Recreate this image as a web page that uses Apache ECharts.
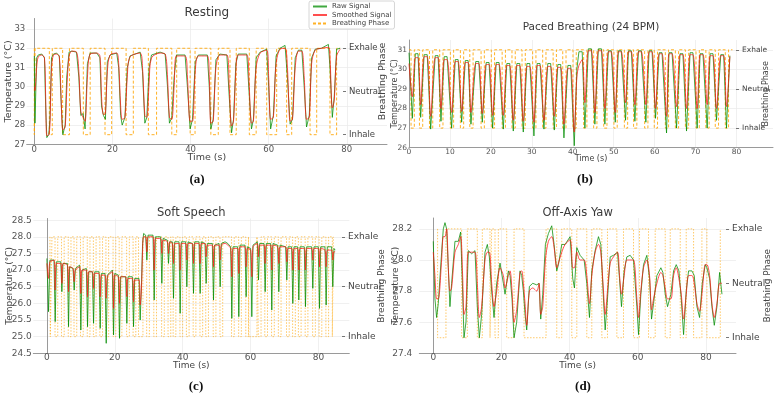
<!DOCTYPE html>
<html><head><meta charset="utf-8">
<script src="https://cdn.jsdelivr.net/npm/echarts@6/dist/echarts.min.js"></script>
<style>html,body{margin:0;padding:0;background:#fff}#c{width:779px;height:398px}</style>
</head><body><div id="c"></div>
<script>
// ---------- DATA ----------
const phaseNames = ['Inhale', 'Neutral', 'Exhale'];
const legendNames = ['Raw Signal', 'Smoothed Signal', 'Breathing Phase'];

// (a) Resting
const aT = [0,0.17,0.6,1.0,1.9,2.6,2.9,3.2,3.7,4.0,
4.4,4.9,5.7,6.4,6.8,7.3,7.9,8.3,8.9,9.6,
10.8,11.4,11.9,12.5,13.0,13.6,14.3,16.0,16.8,17.2,
17.7,18.2,18.7,19.4,21.1,21.6,22.1,22.5,23.2,23.8,
24.5,27.1,27.7,28.3,28.8,29.4,30.0,32.2,33.5,34.1,
34.6,35.2,35.8,36.4,38.6,39.2,39.9,40.5,41.2,42.0,
44.3,44.8,45.2,45.8,46.5,47.5,49.3,49.9,50.5,51.0,
51.6,52.2,54.4,54.96,55.6,56.1,56.8,57.8,59.5,60.0,
60.5,61.2,61.9,62.9,64.2,64.8,65.5,66.1,66.8,67.6,
68.5,69.1,69.7,70.4,71.0,71.9,73.5,75.3,75.7,76.3,
76.8,77.4,78.3];
const aRaw = [31.6,28.1,31.5,31.65,31.7,31.5,29.0,27.35,27.5,28.3,
31.5,31.7,31.75,31.6,29.5,27.5,28.0,30.5,31.8,31.85,
31.8,30.5,28.5,28.6,27.8,31.2,31.75,31.75,31.5,29.0,
28.5,28.3,31.3,31.65,31.75,31.0,28.5,28.0,28.4,31.0,
31.6,31.8,30.8,28.1,28.4,31.0,31.65,31.8,31.7,30.0,
28.1,28.4,30.5,31.65,31.65,30.0,27.8,28.3,31.3,31.65,
31.65,30.0,27.8,28.3,31.4,31.7,31.65,29.5,27.6,28.3,
31.2,31.7,31.7,29.8,27.8,28.3,31.5,31.8,31.95,30.0,
27.8,28.5,31.6,32.0,32.15,30.5,28.05,28.3,31.5,31.9,
31.9,30.0,27.9,28.5,31.5,31.95,32.0,32.2,31.0,28.4,
29.5,31.95,32.0];
const aSmooth = [30.0,29.8,31.0,31.55,31.65,31.5,29.5,27.45,27.5,28.0,
31.0,31.65,31.7,31.55,29.8,27.75,27.9,29.8,31.6,31.85,
31.8,30.8,28.7,28.4,28.2,30.5,31.7,31.75,31.6,29.5,
28.55,28.6,30.8,31.65,31.75,31.2,29.0,28.3,28.4,30.5,
31.55,31.75,31.0,28.5,28.4,30.2,31.5,31.75,31.7,30.5,
28.4,28.3,30.0,31.6,31.6,30.5,28.2,28.2,30.8,31.6,
31.6,30.5,28.1,28.2,31.0,31.65,31.65,30.0,27.95,28.2,
30.8,31.65,31.65,30.3,28.1,28.2,31.0,31.75,31.9,30.5,
28.3,28.4,31.2,31.95,32.0,31.0,28.2,28.3,31.0,31.85,
31.85,30.5,28.3,28.4,31.2,31.9,32.0,32.05,31.5,28.9,
29.3,31.6,31.95];
const aInhaleStart = [0,3.85,7.25,12.55,18.1,23.5,29.2,35.2,39.9,45.2,50.1,55.05,59.5,64.6,70.6,75.7];
const aInhaleEnd   = [0.2,4.6,9.0,14.3,19.8,25.35,31.3,36.45,41.15,47.1,51.7,56.8,62.05,65.9,72.3,77.4];
const aPhaseSpan = [0, 78.3];

// (b) Paced Breathing (24 BPM)
const bT = [0,0.81,1.55,2.2,2.85,3.7,4.45,5.29,6.4,7.1,
7.81,8.6,9.3,10.41,11.3,12.0,12.86,13.75,14.45,15.13,
16.3,17.05,17.9,18.85,19.55,20.42,21.3,22.0,23.03,23.9,
24.6,25.47,26.35,27.05,27.91,28.8,29.5,30.51,31.3,32.0,
32.95,33.9,34.6,35.48,36.35,37.05,37.84,38.8,39.5,40.36,
41.0,41.5,42.3,42.96,43.8,44.55,45.4,46.25,47.0,47.84,
48.7,49.4,50.37,51.15,51.85,52.89,53.6,54.3,55.17,56.05,
56.75,57.85,58.65,59.35,60.21,61.1,61.8,62.9,63.5,64.25,
65.34,66.2,66.9,67.78,68.65,69.35,70.38,71.1,71.8,72.82,
73.55,74.25,75.1,76.15,76.85,77.54,78.36];
const bRaw = [30.85,27.5,30.8,30.8,27.55,30.75,30.75,26.95,30.7,30.7,
27.35,30.65,30.65,27.0,30.5,30.5,27.3,30.45,30.45,27.2,
30.4,30.4,27.3,30.35,30.35,27.0,30.35,30.35,26.95,30.3,
30.3,26.85,30.3,30.3,26.8,30.3,30.3,26.6,30.3,30.3,
26.95,30.3,30.3,26.9,30.25,30.25,26.5,30.2,30.2,26.1,
30.0,30.9,30.9,27.0,31.05,31.05,27.2,31.05,31.05,27.2,
30.95,30.95,27.3,30.95,30.95,27.4,30.95,30.95,27.35,30.95,
30.95,27.3,30.95,30.95,27.5,30.85,30.85,26.75,30.85,30.85,
27.0,30.8,30.8,26.85,30.85,30.85,27.0,30.8,30.8,27.0,
30.8,30.8,27.4,30.75,30.75,27.0,30.7];
const bSmooth = [30.3,28.6,30.6,30.6,28.2,30.65,30.65,27.6,30.6,30.6,
28.0,30.5,30.5,27.8,30.4,30.4,27.85,30.35,30.35,27.8,
30.3,30.3,27.75,30.25,30.25,27.65,30.25,30.25,27.65,30.2,
30.2,27.4,30.2,30.2,27.35,30.15,30.15,27.3,30.2,30.2,
27.4,30.15,30.15,27.6,30.1,30.1,27.2,30.05,30.05,26.8,
29.6,30.2,30.5,28.3,30.95,30.95,27.8,30.95,30.95,28.0,
30.9,30.9,27.8,30.9,30.9,28.3,30.9,30.9,28.2,30.9,
30.9,28.2,30.9,30.9,28.0,30.8,30.8,27.6,30.8,30.8,
28.1,30.75,30.75,28.0,30.75,30.75,28.0,30.75,30.75,28.2,
30.7,30.7,28.0,30.7,30.7,28.1,30.65];
const bInhaleStart = [0.5,2.55,5.0,7.5,10.1,12.55,14.85,17.6,20.1,22.75,25.15,27.6,30.2,32.65,35.2,37.55,40.05,42.65,45.1,47.55,50.05,52.6,54.85,57.55,59.9,62.6,65.05,67.5,70.1,72.5,74.8,77.25];
const bInhaleEnd   = [1.3,3.35,5.8,8.3,10.9,13.35,15.65,18.4,20.9,23.55,25.95,28.4,31.0,33.45,36.0,38.35,40.85,43.45,45.9,48.35,50.85,53.4,55.65,58.35,60.7,63.4,65.85,68.3,70.9,73.3,75.6,78.05];
const bPhaseSpan = [0, 79.0];

// (c) Soft Speech
const cT = [0,0.49,0.9,2.1,2.45,2.8,4.1,4.42,4.75,6.05,
6.38,6.7,7.7,8.05,8.4,9.66,10.01,10.36,11.63,11.98,
12.33,13.4,13.75,14.1,15.36,15.71,16.06,17.13,17.48,17.83,
19.29,19.64,19.99,21.05,21.4,21.75,23.21,23.56,23.91,25.18,
25.53,25.88,27.14,27.49,27.85,28.2,28.5,29.1,29.46,29.8,
31.27,31.62,31.97,33.52,33.87,34.22,35.49,35.84,36.19,36.96,
37.31,37.66,38.92,39.27,39.62,40.89,41.24,41.59,42.85,43.2,
43.55,44.81,45.16,45.51,46.58,46.93,47.28,48.74,49.09,49.44,
50.71,51.06,51.41,52.5,53.3,54.14,54.49,54.84,56.2,56.55,
56.9,58.36,58.71,59.06,60.03,60.38,60.73,62.0,62.35,62.7,
63.96,64.31,64.66,65.92,66.27,66.62,67.99,68.34,68.69,70.34,
70.69,71.04,72.11,72.46,72.81,73.88,74.23,74.58,75.84,76.19,
76.54,78.0,78.35,78.7,79.97,80.32,80.67,81.93,82.28,82.63,
83.89,84.24,84.59,84.93];
const cRaw = [27.35,25.75,27.3,27.3,25.45,27.25,27.25,26.35,27.2,27.2,
25.3,27.1,27.05,26.4,27.05,27.15,25.2,27.0,27.05,25.3,
26.95,26.95,25.4,26.95,26.95,25.25,26.9,26.9,24.8,26.85,
27.0,25.05,26.9,26.85,24.95,26.8,26.8,25.4,26.8,26.8,
25.3,26.75,26.75,25.5,26.5,27.8,28.1,28.05,27.3,28.05,
28.05,26.1,28.0,28.0,26.6,27.95,27.9,27.2,27.85,27.85,
26.15,27.85,27.85,25.7,27.85,27.85,26.5,27.85,27.8,26.3,
27.85,27.85,26.3,27.85,27.8,26.6,27.8,27.8,26.1,27.75,
27.8,26.5,27.8,27.85,27.8,27.7,25.55,27.7,27.7,25.6,
27.75,27.75,26.2,27.7,27.65,25.6,27.75,27.85,26.7,27.8,
27.8,26.35,27.8,27.8,25.8,27.8,27.75,26.35,27.75,27.7,
26.7,27.7,27.7,26.0,27.7,27.7,26.1,27.7,27.7,25.9,
27.7,27.7,26.45,27.7,27.7,25.85,27.7,27.7,25.95,27.7,
27.7,26.5,27.65,27.6];
const cSmooth = [27.2,26.75,27.25,27.3,26.4,27.2,27.2,26.6,27.2,27.15,
26.35,27.1,27.05,26.65,27.0,27.1,26.3,27.0,27.0,26.2,
26.95,26.95,26.45,26.9,26.9,26.2,26.85,26.85,26.15,26.8,
26.95,25.85,26.85,26.8,26.0,26.8,26.8,26.2,26.75,26.75,
26.05,26.7,26.7,25.95,26.4,27.6,28.0,28.0,27.55,28.0,
28.0,27.0,27.95,27.95,27.5,27.9,27.85,27.5,27.85,27.8,
27.2,27.8,27.8,27.0,27.8,27.8,27.3,27.8,27.8,27.2,
27.8,27.8,27.2,27.8,27.8,27.4,27.75,27.75,27.1,27.75,
27.75,27.3,27.75,27.8,27.75,27.65,26.8,27.65,27.65,26.9,
27.7,27.7,27.1,27.65,27.6,26.8,27.7,27.8,27.4,27.75,
27.75,27.2,27.75,27.75,27.0,27.75,27.7,27.2,27.7,27.7,
27.25,27.65,27.65,27.0,27.65,27.65,27.0,27.65,27.65,27.0,
27.65,27.65,27.3,27.65,27.65,27.1,27.65,27.6,27.1,27.6,
27.6,27.3,27.55,27.55];
const cInhaleStart = [1.0,2.4,4.3,6.3,8.0,9.9,11.9,13.7,15.6,17.4,19.5,21.3,23.5,25.4,27.0,29.4,31.5,33.8,35.7,37.2,39.2,41.1,43.1,45.1,46.8,49.0,51.0,54.4,56.5,58.6,59.5,62.3,64.2,66.2,68.2,70.6,72.4,74.1,76.1,78.3,80.2,82.2,84.1];
const cInhaleEnd   = [1.5,3.2,5.1,7.1,8.8,10.7,12.7,14.5,16.4,18.2,20.3,22.1,24.3,26.2,28.3,30.2,32.3,34.6,36.5,38.0,40.0,41.9,43.9,45.9,47.6,49.8,51.8,55.2,57.3,59.4,61.9,63.1,65.0,67.0,69.0,71.4,73.2,74.9,76.9,79.1,81.0,83.0,84.4];
const cPhaseSpan = [0.9, 84.4];

// (d) Off-Axis Yaw
const dT = [0,0.49,0.98,1.47,2.45,2.94,3.43,3.92,4.41,4.89,
5.38,6.36,7.34,8.03,8.61,9.01,9.59,10.28,11.26,12.24,
12.92,13.51,14.19,15.17,15.86,16.45,17.13,17.82,18.6,19.58,
20.56,21.05,22.03,22.52,23.1,23.69,24.47,25.45,25.94,26.43,
26.92,27.41,28.19,29.17,30.35,31.03,31.52,32.11,32.89,33.77,
34.75,35.44,36.22,36.71,37.69,38.67,40.14,40.92,41.41,42.1,
43.07,44.25,45.03,45.82,46.5,47.48,48.46,49.14,49.93,50.42,
51.1,51.89,52.86,54.04,54.63,55.21,56.0,56.78,57.76,58.74,
59.72,60.21,60.89,61.67,62.65,63.44,64.02,64.61,65.59,66.77,
67.35,68.04,68.72,69.7,70.49,71.27,72.05,72.74,73.42,74.2,
74.89,75.87,76.55,77.34,78.12,78.9,79.78,80.27,81.06,81.74,
82.43,83.21,83.99,84.68];
const dRaw = [28.12,27.75,27.63,27.72,28.05,28.2,28.24,28.2,27.95,27.7,
27.85,28.12,28.12,28.18,27.8,27.5,27.6,28.06,28.04,28.06,
27.7,27.5,27.65,28.05,28.1,28.02,27.8,27.63,27.85,27.98,
27.85,27.78,27.93,27.9,27.75,27.5,27.6,27.93,27.9,27.8,
27.65,27.55,27.83,27.85,27.84,27.85,27.62,27.78,28.1,28.17,
28.22,28.1,27.93,27.97,28.1,28.1,28.15,27.88,27.82,28.08,
28.03,28.0,27.85,27.63,27.93,28.06,28.15,28.1,27.75,27.55,
27.75,28.02,28.03,28.05,27.88,27.7,27.93,28.02,28.03,28.0,
27.7,27.52,27.78,27.97,28.03,27.88,27.62,27.72,27.9,27.95,
27.92,27.78,27.7,27.78,27.93,27.97,27.93,27.75,27.52,27.8,
27.93,27.93,27.9,27.7,27.63,27.85,27.97,27.95,27.88,27.7,
27.58,27.7,27.92,27.78];
const dSmooth = [28.05,27.9,27.75,27.75,28.0,28.15,28.15,28.2,27.95,27.8,
27.82,28.05,28.1,28.15,27.9,27.65,27.7,28.05,28.05,28.05,
27.85,27.63,27.7,28.0,28.05,28.05,27.85,27.7,27.8,27.95,
27.9,27.82,27.9,27.93,27.8,27.6,27.68,27.92,27.93,27.85,
27.72,27.58,27.8,27.82,27.8,27.85,27.65,27.7,28.0,28.12,
28.15,28.08,27.95,27.98,28.05,28.1,28.13,27.95,27.95,28.05,
28.0,28.0,27.9,27.72,27.9,28.05,28.1,28.05,27.8,27.65,
27.8,27.98,28.02,28.05,27.9,27.78,27.9,28.0,28.0,28.0,
27.75,27.63,27.8,27.95,28.0,27.9,27.68,27.75,27.85,27.92,
27.9,27.82,27.75,27.75,27.9,27.95,27.88,27.78,27.62,27.78,
27.9,27.9,27.85,27.72,27.67,27.8,27.97,27.97,27.9,27.72,
27.63,27.72,27.85,27.85];
const dInhaleStart = [1.27,8.32,12.92,16.64,18.11,21.54,26.63,36.22,40.63,45.03,49.44,53.85,58.74,63.14,68.04,72.44,76.36,80.27];
const dInhaleEnd   = [3.72,9.99,14.39,17.13,19.09,23.69,33.09,37.69,42.1,46.5,51.1,55.8,60.5,65.1,69.51,74.2,78.8,84.19];
const dPhaseSpan = [1.27, 84.19];

// ---------- LAYOUT (pixels) ----------
const panels = [
  {title:'Resting', T:aT, raw:aRaw, sm:aSmooth, inS:aInhaleStart, inE:aInhaleEnd, span:aPhaseSpan,
   left:26.7, top:18.5, right:387, bottom:144.3, xMin:-1.95, xMax:90.3, xStep:20,
   yMin:27, yMax:33.55, yStep:1, yDec:0, exh:32, inh:27.5, twinX:343,
   fs:8.5, nameFs:9.5, titleFs:12, titleCy:14, yNameCx:8.3, xNameCy:157.7, twinNameCx:383,
   xMargin:0.5, yMargin:1.5, dash:[3,2], phaseColor:'rgba(255,165,0,0.85)', cap:'(a)', capX:197, capY:181.5},
  {title:'Paced Breathing (24 BPM)', T:bT, raw:bRaw, sm:bSmooth, inS:bInhaleStart, inE:bInhaleEnd, span:bPhaseSpan,
   left:409, top:40, right:773, bottom:147.7, xMin:0, xMax:88.9, xStep:10,
   yMin:26, yMax:31.5, yStep:1, yDec:0, exh:31, inh:27, twinX:736,
   fs:7.5, nameFs:8, titleFs:10.5, titleCy:28, yNameCx:394, xNameCy:159.5, twinNameCx:767,
   xMargin:0, yMargin:2, dash:[3,2], phaseColor:'rgba(255,165,0,0.85)', cap:'(b)', capX:585, capY:181.5},
  {title:'Soft Speech', T:cT, raw:cRaw, sm:cSmooth, inS:cInhaleStart, inE:cInhaleEnd, span:cPhaseSpan,
   left:33.3, top:218.5, right:349.3, bottom:353.3, xMin:-4, xMax:89.1, xStep:20,
   yMin:24.5, yMax:28.55, yStep:0.5, yDec:1, exh:28, inh:25, twinX:342,
   fs:9, nameFs:9, titleFs:11.5, titleCy:213.5, yNameCx:9, xNameCy:366, twinNameCx:383,
   xMargin:0, yMargin:1.5, dash:[1.5,1.5], phaseColor:'rgba(255,165,0,0.6)', cap:'(c)', capX:196, capY:388},
  {title:'Off-Axis Yaw', T:dT, raw:dRaw, sm:dSmooth, inS:dInhaleStart, inE:dInhaleEnd, span:dPhaseSpan,
   left:419.3, top:218, right:736, bottom:353.3, xMin:-4.1, xMax:88.8, xStep:20,
   yMin:27.4, yMax:28.27, yStep:0.2, yDec:1, exh:28.2, inh:27.5, twinX:726,
   fs:9, nameFs:9, titleFs:11.5, titleCy:214, yNameCx:395, xNameCy:365.7, twinNameCx:769,
   xMargin:0, yMargin:7, dash:[1.5,1.5], phaseColor:'rgba(255,165,0,0.6)', cap:'(d)', capX:583, capY:388}
];

function isMult(v, s) { return Math.abs(v / s - Math.round(v / s)) < 1e-6; }

const option = {
  animation: false,
  textStyle: {fontFamily: 'DejaVu Sans'},
  title: [], grid: [], xAxis: [], yAxis: [], series: [],
  legend: {
    orient: 'vertical', left: 309, top: 1, itemWidth: 14, itemHeight: 6, itemGap: 1.5,
    padding: [2, 3, 2, 3], backgroundColor: 'rgba(255,255,255,0.9)', borderColor: '#cccccc', borderWidth: 0.8, borderRadius: 2,
    itemStyle: {opacity: 0},
    textStyle: {fontSize: 7, color: '#444', fontFamily: 'DejaVu Sans'},
    data: legendNames
  }
};

panels.forEach((p, i) => {
  option.grid.push({left: p.left, top: p.top, width: p.right - p.left, height: p.bottom - p.top,
    containLabel: false, outerBoundsMode: 'none'});
  option.title.push({text: p.title, left: p.left + (p.right - p.left) / 2, top: p.titleCy - p.titleFs * 0.6,
    textAlign: 'center', padding: 0,
    textStyle: {fontSize: p.titleFs, fontWeight: 'normal', color: '#3a3a3a', fontFamily: 'DejaVu Sans'}});
  option.title.push({text: p.cap, left: p.capX, top: p.capY - 8, textAlign: 'center', padding: 0,
    textStyle: {fontSize: 13, fontWeight: 'bold', color: '#111', fontFamily: 'Liberation Serif'}});
  option.xAxis.push({
    type: 'value', gridIndex: i, min: p.xMin, max: p.xMax, minInterval: p.xStep, maxInterval: p.xStep,
    axisLine: {show: true, onZero: false, lineStyle: {color: '#9a9a9a', width: 1}},
    axisTick: {show: false},
    axisLabel: {fontSize: p.fs, color: '#555', margin: p.xMargin,
      formatter: v => isMult(v, p.xStep) ? String(Math.round(v)) : ''},
    splitLine: {show: true, showMinLine: false, showMaxLine: false, lineStyle: {color: '#ececec', width: 0.8}},
    name: 'Time (s)', nameLocation: 'middle', nameMoveOverlap: false,
    nameGap: p.xNameCy - p.bottom - p.nameFs * 0.55,
    nameTextStyle: {fontSize: p.nameFs, color: '#444'}
  });
  option.yAxis.push({
    type: 'value', gridIndex: i, min: p.yMin, max: p.yMax, minInterval: p.yStep, maxInterval: p.yStep,
    axisLine: {show: true, lineStyle: {color: '#9a9a9a', width: 1}},
    axisTick: {show: false},
    axisLabel: {fontSize: p.fs, color: '#555', margin: p.yMargin,
      formatter: v => isMult(v, p.yStep) ? v.toFixed(p.yDec) : ''},
    splitLine: {show: true, showMinLine: false, showMaxLine: false, lineStyle: {color: '#ececec', width: 0.8}},
    name: 'Temperature (°C)', nameLocation: 'middle', nameRotate: 90, nameMoveOverlap: false,
    nameGap: p.left - p.yNameCx - p.nameFs * 0.6,
    nameTextStyle: {fontSize: p.nameFs, color: '#444'}
  });
  const k = (p.exh - p.inh) / 2;
  option.yAxis.push({
    type: 'value', gridIndex: i, position: 'right', offset: p.twinX - p.right,
    min: (p.yMin - p.inh) / k, max: (p.yMax - p.inh) / k, minInterval: 1, maxInterval: 1,
    axisLine: {show: false},
    axisTick: {show: true, length: 3, customValues: [0, 1, 2], lineStyle: {color: '#555', width: 0.8}},
    axisLabel: {show: true, customValues: [0, 1, 2], fontSize: p.fs, color: '#444', margin: 6,
      formatter: v => isMult(v, 1) && v >= 0 && v <= 2 ? phaseNames[Math.round(v)] : ''},
    splitLine: {show: false},
    name: 'Breathing Phase', nameLocation: 'middle', nameRotate: 90, nameMoveOverlap: false,
    nameGap: p.twinNameCx - p.twinX - p.nameFs * 0.6,
    nameTextStyle: {fontSize: p.nameFs, color: '#444'}
  });
  // phase square wave built from inhale intervals
  const ph = [];
  if (p.inS[0] > p.span[0]) ph.push([p.span[0], 2]);
  p.inS.forEach((s, j) => { ph.push([s, 2], [s, 0], [p.inE[j], 0], [p.inE[j], 2]); });
  if (p.inE[p.inE.length - 1] < p.span[1]) ph.push([p.span[1], 2]);

  option.series.push({
    type: 'line', name: 'Raw Signal', xAxisIndex: i, yAxisIndex: 2 * i, symbol: 'none', silent: true,
    data: p.T.map((t, j) => [t, p.raw[j]]),
    lineStyle: {color: 'rgba(0,140,0,0.75)', width: 1}, itemStyle: {color: 'rgb(70,170,70)'}, z: 2
  });
  option.series.push({
    type: 'line', name: 'Smoothed Signal', xAxisIndex: i, yAxisIndex: 2 * i, symbol: 'none', silent: true,
    smooth: 0.3, data: p.T.map((t, j) => [t, p.sm[j]]),
    lineStyle: {color: 'rgba(255,20,20,0.75)', width: 1}, itemStyle: {color: 'rgb(255,70,70)'}, z: 3
  });
  option.series.push({
    type: 'line', name: 'Breathing Phase', xAxisIndex: i, yAxisIndex: 2 * i + 1, symbol: 'none', silent: true,
    data: ph, lineStyle: {color: p.phaseColor, width: 1, type: p.dash}, itemStyle: {color: '#FFA500'}, z: 1
  });
});

const chart = echarts.init(document.getElementById('c'), null, {renderer: 'canvas'});
chart.setOption(option);
</script></body></html>
